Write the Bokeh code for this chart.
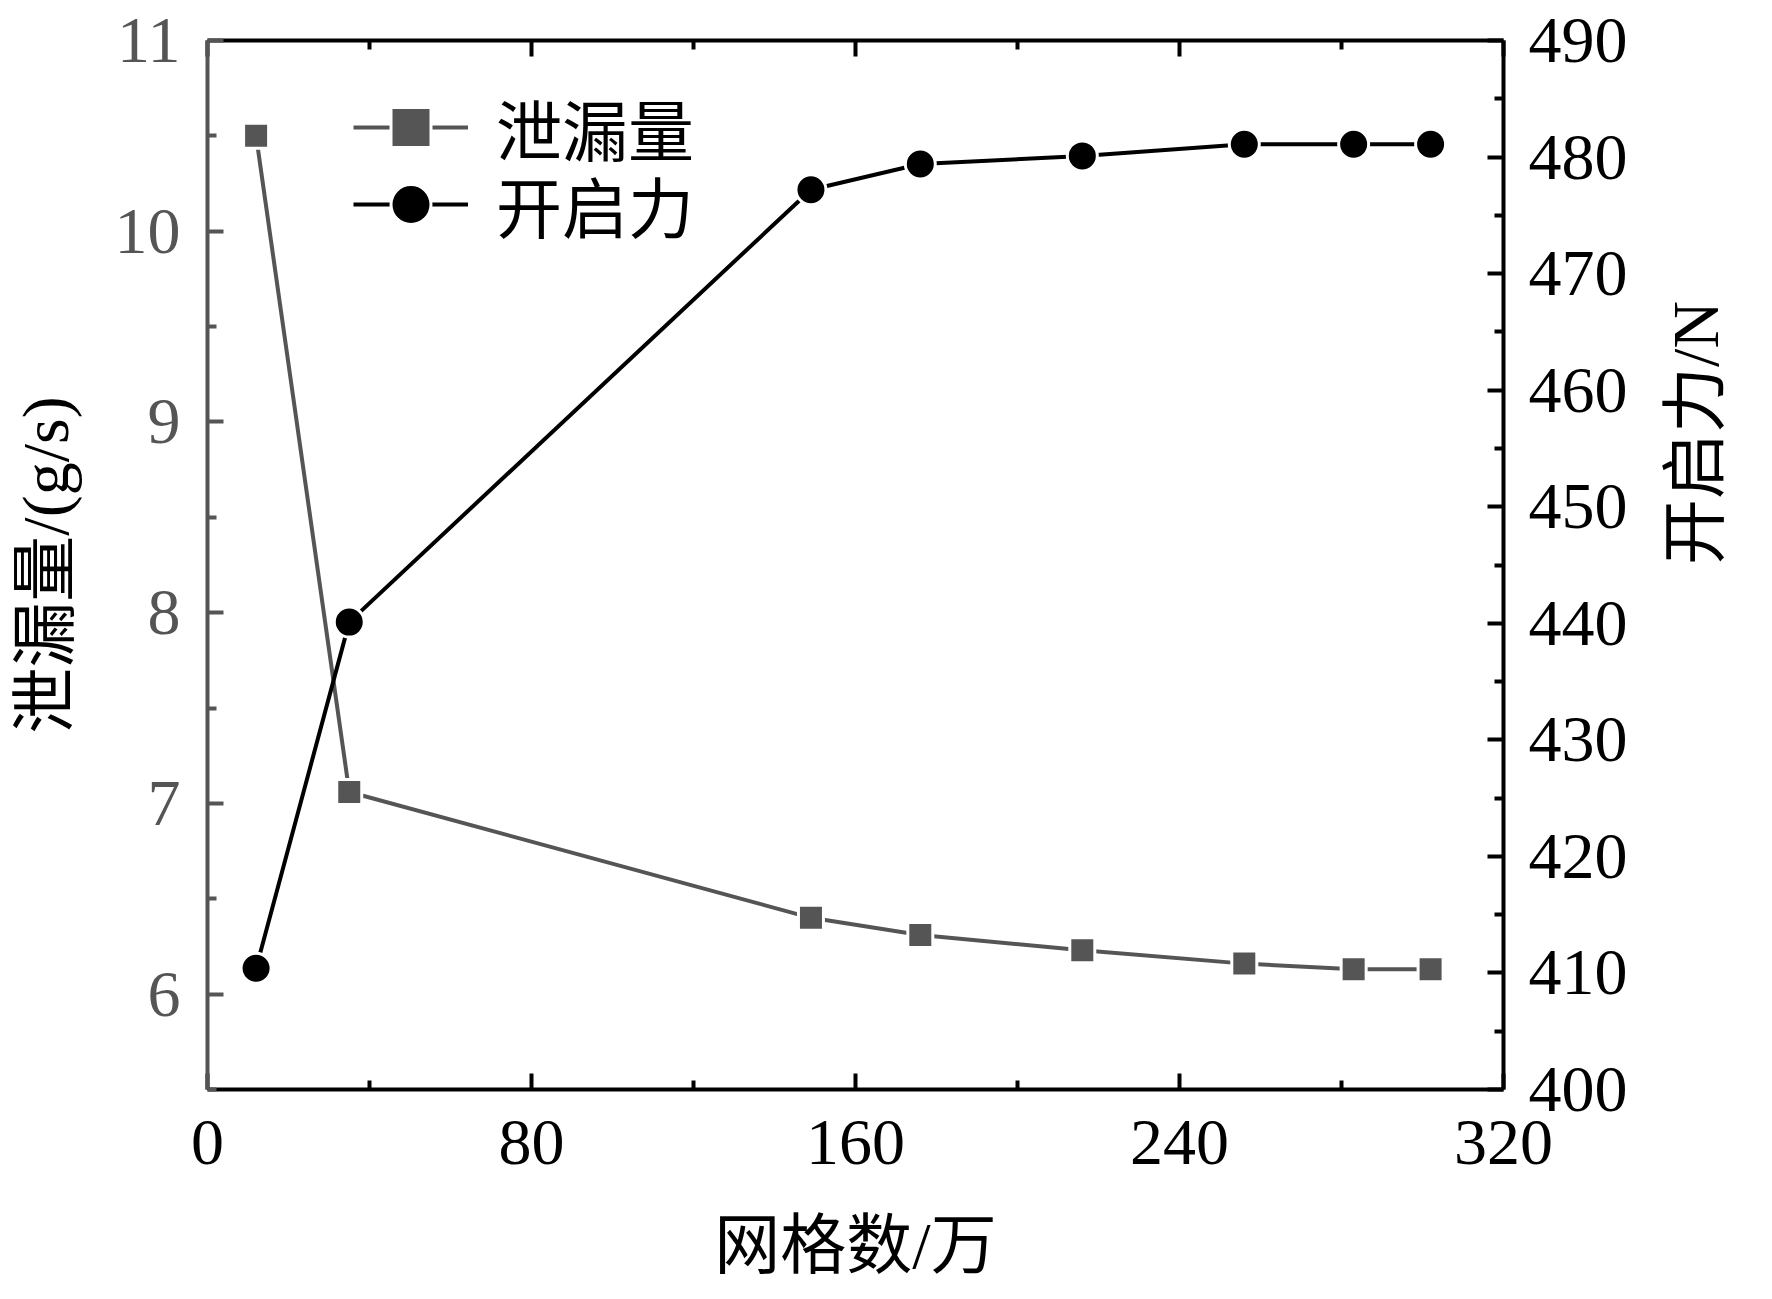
import math
from bokeh.plotting import figure
from bokeh.models import Range1d, LinearAxis, FixedTicker, Legend, LegendItem
from bokeh.embed import file_html
from bokeh.resources import INLINE

# ---- data ----
mesh = [12, 35, 149, 176, 216, 256, 283, 302]          # 网格数/万
leak = [10.50, 7.06, 6.40, 6.31, 6.23, 6.16, 6.13, 6.13]  # 泄漏量 (g/s)
force = [410.4, 440.1, 477.2, 479.4, 480.1, 481.1, 481.1, 481.1]  # 开启力 (N)

x_ticks = [0, 80, 160, 240, 320]
x_minor = [40, 120, 200, 280]
left_ticks = [6, 7, 8, 9, 10, 11]
left_minor = [5.5, 6.5, 7.5, 8.5, 9.5, 10.5]
right_ticks = [400, 410, 420, 430, 440, 450, 460, 470, 480, 490]
right_minor = [405, 415, 425, 435, 445, 455, 465, 475, 485]

x_title = "网格数/万"
left_title = "泄漏量/(g/s)"
right_title = "开启力/N"
names = ["泄漏量", "开启力"]

GRAY = "#555555"
BLACK = "#000000"
FONT = "Liberation Serif, Noto Sans CJK SC"
TICK_FS = "66px"
TITLE_FS = "66px"

p = figure(width=1772, height=1299, x_range=Range1d(0, 320), y_range=Range1d(5.5, 11),
           output_backend="svg", toolbar_location=None,
           min_border_left=207, min_border_right=269, min_border_top=40, min_border_bottom=210,
           x_axis_location=None, y_axis_location=None)
p.extra_y_ranges = {"force": Range1d(400, 490)}
p.xgrid.visible = False
p.ygrid.visible = False
p.outline_line_color = None
p.background_fill_color = "white"
p.border_fill_color = "white"


def style_axis(ax, color, ticks, minor):
    ax.ticker = FixedTicker(ticks=ticks, minor_ticks=minor)
    ax.axis_line_color = color
    ax.axis_line_width = 4
    ax.major_tick_line_color = color
    ax.minor_tick_line_color = color
    ax.major_tick_line_width = 4
    ax.minor_tick_line_width = 4
    ax.major_tick_in = 16
    ax.major_tick_out = 0
    ax.minor_tick_in = 9
    ax.minor_tick_out = 0
    ax.major_label_text_font = FONT
    ax.major_label_text_font_size = TICK_FS
    ax.major_label_text_color = color
    ax.axis_label_text_font = FONT
    ax.axis_label_text_font_size = TITLE_FS
    ax.axis_label_text_font_style = "normal"
    ax.axis_label_text_color = BLACK


xb = LinearAxis(axis_label=x_title)
style_axis(xb, BLACK, x_ticks, x_minor)
xb.major_label_standoff = 31
xb.axis_label_standoff = 42
p.add_layout(xb, "below")

xt = LinearAxis()
style_axis(xt, BLACK, x_ticks, x_minor)
xt.major_label_text_font_size = "11px"
xt.major_label_text_color = None
xt.major_label_standoff = 0
p.add_layout(xt, "above")

yl = LinearAxis(axis_label=left_title)
style_axis(yl, GRAY, left_ticks, left_minor)
yl.major_label_standoff = 27
yl.axis_label_standoff = 30
p.add_layout(yl, "left")

yr = LinearAxis(y_range_name="force", axis_label=right_title)
style_axis(yr, BLACK, right_ticks, right_minor)
yr.major_label_standoff = 25
yr.axis_label_standoff = 65
yr.axis_label_orientation = math.pi / 2   # reads bottom-to-top like the reference
p.add_layout(yr, "right")

# ---- data series ----
l1 = p.line(mesh, leak, line_color=GRAY, line_width=4)
s1 = p.scatter(mesh, leak, marker="square", size=25, fill_color=GRAY,
               line_color="white", line_width=3)
l2 = p.line(mesh, force, y_range_name="force", line_color=BLACK, line_width=4)
s2 = p.scatter(mesh, force, y_range_name="force", marker="circle", size=30,
               fill_color=BLACK, line_color="white", line_width=3)

for name, rends, ypos in [(names[0], [l1, s1], 912), (names[1], [l2, s2], 835)]:
    lg = Legend(items=[LegendItem(label=name, renderers=rends)], location=(146, ypos))
    lg.label_text_font = FONT
    lg.label_text_font_size = TITLE_FS
    lg.label_text_color = BLACK
    lg.glyph_width = 115
    lg.glyph_height = 100
    lg.label_height = 100
    lg.label_standoff = 28
    lg.spacing = 0
    lg.padding = 0
    lg.margin = 0
    lg.border_line_color = None
    lg.background_fill_alpha = 0
    p.add_layout(lg, "center")

open("out.html", "w").write(file_html(p, INLINE))
